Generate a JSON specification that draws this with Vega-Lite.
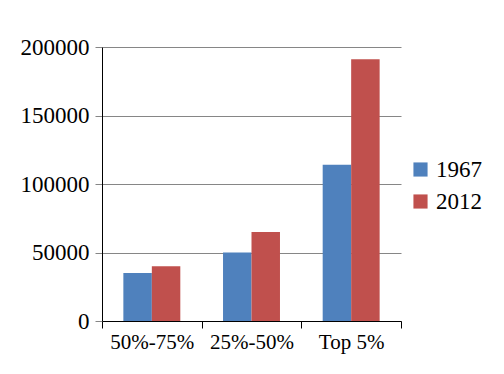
{
  "$schema": "https://vega.github.io/schema/vega-lite/v6.json",
  "autosize": {"type": "none"},
  "padding": {"left": 102, "top": 47, "right": 103, "bottom": 53},
  "width": 299,
  "height": 274,
  "background": "white",
  "config": {"view": {"stroke": null}, "font": "Liberation Serif"},
  "data": {"values": [
    {"group": "50%-75%", "year": "1967", "value": 35000},
    {"group": "50%-75%", "year": "2012", "value": 40000},
    {"group": "25%-50%", "year": "1967", "value": 50000},
    {"group": "25%-50%", "year": "2012", "value": 65000},
    {"group": "Top 5%", "year": "1967", "value": 114000},
    {"group": "Top 5%", "year": "2012", "value": 191000}
  ]},
  "mark": {"type": "bar"},
  "encoding": {
    "x": {"field": "group", "type": "nominal", "sort": ["50%-75%", "25%-50%", "Top 5%"],
      "scale": {"paddingInner": 0, "paddingOuter": 0},
      "axis": {"title": null, "labelAngle": 0, "domainColor": "black", "tickColor": "black", "tickSize": 7, "tickBand": "extent", "labelFontSize": 21, "labelColor": "black", "labelPadding": 3, "labelFont": "Liberation Serif"}},
    "xOffset": {"field": "year", "type": "nominal", "scale": {"paddingInner": 0, "paddingOuter": 0.75}},
    "y": {"field": "value", "type": "quantitative", "scale": {"domain": [0, 200000]},
      "axis": {"title": null, "values": [0, 50000, 100000, 150000, 200000], "format": "d", "grid": true, "gridColor": "#868686", "domainColor": "black", "tickColor": "#868686", "tickSize": 7, "labelFontSize": 23, "labelColor": "black", "labelPadding": 6, "labelFont": "Liberation Serif"}},
    "color": {"field": "year", "type": "nominal", "scale": {"range": ["#4F81BD", "#C0504D"]},
      "legend": {"title": null, "orient": "none", "legendX": 307, "legendY": 111, "symbolType": "square", "symbolSize": 200, "symbolStrokeWidth": 0, "labelFontSize": 23, "labelColor": "black", "rowPadding": 8, "labelOffset": 4, "labelFont": "Liberation Serif"}}
  }
}
